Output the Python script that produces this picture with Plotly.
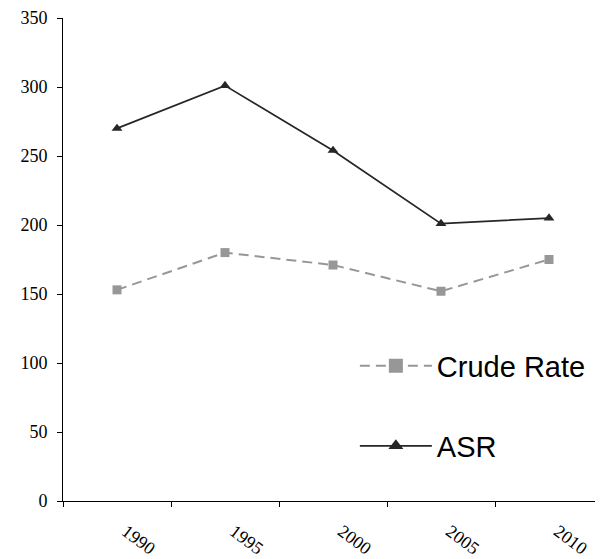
import plotly.graph_objects as go

years = ["1990", "1995", "2000", "2005", "2010"]
crude_rate = [153, 180, 171, 152, 175]
asr = [270, 301, 254, 201, 205]
y_ticks = [0, 50, 100, 150, 200, 250, 300, 350]

CRUDE_COLOR = "#979797"
ASR_COLOR = "#262626"

fig = go.Figure()
fig.add_trace(go.Scatter(
    x=years, y=crude_rate, name="Crude Rate", mode="lines+markers",
    line=dict(color=CRUDE_COLOR, width=2, dash="10px,6px"),
    marker=dict(symbol="square", size=9, color=CRUDE_COLOR),
    showlegend=False,
))
fig.add_trace(go.Scatter(
    x=years, y=asr, name="ASR", mode="lines+markers",
    line=dict(color=ASR_COLOR, width=1.7),
    marker=dict(symbol="triangle-up", size=9.5, color=ASR_COLOR),
    showlegend=False,
))
# legend entries (larger symbols, as in the reference legend)
fig.add_trace(go.Scatter(
    x=[None], y=[None], name="Crude Rate", mode="lines+markers",
    line=dict(color=CRUDE_COLOR, width=2, dash="10px,6px"),
    marker=dict(symbol="square", size=14, color=CRUDE_COLOR),
    legend="legend",
))
fig.add_trace(go.Scatter(
    x=[None], y=[None], name="ASR", mode="lines+markers",
    line=dict(color=ASR_COLOR, width=1.7),
    marker=dict(symbol="triangle-up", size=13, color=ASR_COLOR),
    legend="legend2",
))

legend_common = dict(
    font=dict(family="Liberation Sans, Arial, sans-serif", size=29, color="#000000"),
    bgcolor="rgba(0,0,0,0)", itemwidth=72, xanchor="left", yanchor="middle",
)

serif = "Liberation Serif, Times New Roman, serif"

fig.update_layout(
    width=595, height=551,
    margin=dict(l=55, r=0, t=10, b=58, autoexpand=False),
    paper_bgcolor="white", plot_bgcolor="white",
    showlegend=True,
    legend=dict(x=0.5405, y=0.2795, **legend_common),
    legend2=dict(x=0.5405, y=0.114, **legend_common),
    xaxis=dict(
        type="category", showgrid=False, showline=True, linecolor="#000000", linewidth=1,
        ticks="outside", tickson="boundaries", ticklen=5, tickcolor="#000000",
        tickangle=37, tickfont=dict(family=serif, size=18, color="#000000"),
        ticklabelstandoff=12, ticklabelshift=9,
        range=[-0.5, 4.5], automargin=False,
    ),
    yaxis=dict(
        range=[0, 350], tickvals=y_ticks, showgrid=False, zeroline=False,
        showline=True, linecolor="#000000", linewidth=1,
        ticks="outside", ticklen=5, tickcolor="#000000", ticklabelstandoff=6,
        tickfont=dict(family=serif, size=18, color="#000000"), automargin=False,
    ),
)

fig.write_html("out.html")
